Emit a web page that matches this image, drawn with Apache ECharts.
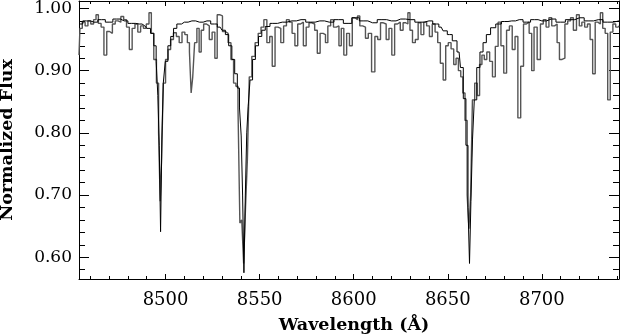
<!DOCTYPE html>
<html>
<head>
<meta charset="utf-8">
<script src="https://cdn.jsdelivr.net/npm/echarts@6/dist/echarts.min.js"></script>
<style>
  html, body { margin: 0; padding: 0; background: #fff; }
  #chart { width: 621px; height: 336px; }
</style>
</head>
<body>
<div id="chart"></div>
<script>
// observed spectrum (wavelength in A, normalized flux)
var obsWave = [
  8454, 8455, 8456.5, 8458, 8459.5, 8461, 8462.5, 8463.6, 8465, 8466.5,
  8468, 8469.5, 8471, 8472.5, 8474, 8475.5, 8477, 8478.5, 8480, 8481.5,
  8483, 8484.5, 8486, 8487.5, 8489, 8490.5, 8491.9, 8493, 8494.5, 8495.8,
  8496.8, 8497.5, 8498.3, 8499.3, 8500.7, 8502, 8503.4, 8505, 8506.5, 8508,
  8509.5, 8511, 8512.2, 8513.2, 8514, 8514.9, 8516, 8517.3, 8518.4, 8519.5,
  8521, 8522.5, 8524, 8525.5, 8526.9, 8528, 8529.5, 8531, 8532.5, 8534,
  8535.5, 8536.8, 8538, 8539, 8540, 8541, 8542, 8543, 8544, 8545,
  8546.7, 8548.5, 8550, 8551.5, 8553, 8554.7, 8556, 8557.4, 8559, 8560.5,
  8562, 8563.5, 8565, 8566.5, 8568, 8569.5, 8571, 8572.5, 8574, 8575.5,
  8577, 8578.5, 8580, 8581.3, 8583, 8584.5, 8585.5, 8587, 8588.5, 8590,
  8591.5, 8592.8, 8594, 8595.5, 8597, 8598.5, 8600, 8601.5, 8602.5, 8604,
  8605.5, 8607, 8608.5, 8610.5, 8612, 8613.5, 8615, 8616.5, 8618, 8619.5,
  8621, 8622.5, 8624, 8625.5, 8627, 8628.3, 8629.3, 8630.5, 8632, 8633.5,
  8635, 8636.5, 8638, 8639.5, 8641, 8642.5, 8644, 8645.3, 8646.8, 8648.3,
  8649.5, 8651, 8652.5, 8653.8, 8655, 8656.3, 8657.5, 8658.5, 8659.8, 8660.8,
  8661.7, 8662.6, 8663.6, 8665, 8666.3, 8667.5, 8668.8, 8670, 8671.5, 8673,
  8674.5, 8676, 8677.5, 8679, 8680.5, 8682, 8683.5, 8685, 8686.5, 8688,
  8689.5, 8691, 8692.5, 8694, 8695.2, 8696.5, 8698.5, 8700, 8701.5, 8703,
  8704.5, 8706, 8707.5, 8708.7, 8710, 8711.5, 8713, 8714.5, 8716, 8717.5,
  8719.3, 8720.5, 8722, 8723.5, 8725, 8726.3, 8727.7, 8729, 8730.5, 8731.7,
  8733, 8734.3, 8735.7, 8737, 8738.5, 8740, 8741
];
var obsFlux = [
  0.925, 0.968, 0.978, 0.972, 0.980, 0.975, 0.982, 0.990, 0.976, 0.970,
  0.925, 0.963, 0.960, 0.975, 0.980, 0.978, 0.987, 0.982, 0.970, 0.934,
  0.968, 0.975, 0.962, 0.972, 0.968, 0.975, 0.993, 0.960, 0.918, 0.880,
  0.800, 0.690, 0.760, 0.880, 0.918, 0.934, 0.950, 0.961, 0.955, 0.945,
  0.962, 0.958, 0.945, 0.930, 0.864, 0.890, 0.945, 0.968, 0.930, 0.965,
  0.975, 0.972, 0.950, 0.962, 0.920, 0.990, 0.988, 0.963, 0.960, 0.945,
  0.918, 0.880, 0.875, 0.840, 0.655, 0.660, 0.590, 0.680, 0.757, 0.890,
  0.923, 0.945, 0.960, 0.970, 0.982, 0.945, 0.955, 0.907, 0.970, 0.968,
  0.945, 0.972, 0.982, 0.978, 0.960, 0.940, 0.975, 0.978, 0.940, 0.970,
  0.977, 0.975, 0.965, 0.928, 0.960, 0.958, 0.945, 0.972, 0.982, 0.970,
  0.972, 0.940, 0.968, 0.925, 0.960, 0.940, 0.985, 0.982, 0.988, 0.972,
  0.970, 0.952, 0.960, 0.898, 0.955, 0.950, 0.977, 0.975, 0.950, 0.968,
  0.925, 0.975, 0.978, 0.965, 0.977, 0.975, 0.993, 0.965, 0.945, 0.950,
  0.977, 0.958, 0.978, 0.972, 0.955, 0.975, 0.962, 0.945, 0.912, 0.885,
  0.940, 0.945, 0.935, 0.910, 0.920, 0.900, 0.890, 0.864, 0.820, 0.700,
  0.646, 0.700, 0.853, 0.880, 0.860, 0.910, 0.925, 0.918, 0.930, 0.915,
  0.890, 0.939, 0.978, 0.940, 0.896, 0.965, 0.972, 0.934, 0.955, 0.824,
  0.907, 0.975, 0.978, 0.960, 0.900, 0.970, 0.918, 0.975, 0.982, 0.970,
  0.985, 0.972, 0.975, 0.945, 0.918, 0.920, 0.975, 0.980, 0.985, 0.965,
  0.990, 0.972, 0.978, 0.970, 0.975, 0.950, 0.895, 0.978, 0.975, 0.993,
  0.968, 0.960, 0.853, 0.962, 0.975, 0.970, 0.972
];

// model spectrum
var modelWave = [
  8454, 8458, 8462, 8466, 8470, 8474, 8478, 8482, 8486, 8489,
  8491, 8493, 8494.5, 8495.5, 8496.3, 8497, 8497.7, 8498.4, 8499.2, 8500.5,
  8502, 8503.5, 8505, 8507, 8510, 8514, 8518, 8522, 8526, 8529,
  8531, 8532.6, 8534.5, 8536, 8537.5, 8538.8, 8539.8, 8540.6, 8541.3, 8542,
  8542.8, 8543.5, 8544.3, 8545.5, 8547, 8548.5, 8550.3, 8552, 8554, 8557,
  8562, 8567, 8572, 8577, 8582, 8587, 8592, 8597, 8601, 8605,
  8610, 8615, 8620, 8625, 8630, 8635, 8640, 8644, 8646.5, 8648.5,
  8651, 8653.8, 8656, 8657.5, 8659, 8660.3, 8661.2, 8661.9, 8662.7, 8663.6,
  8664.6, 8666.2, 8668, 8669.5, 8671.5, 8674, 8677, 8680, 8684, 8688,
  8692, 8696, 8700, 8705, 8710, 8715, 8720, 8725, 8730, 8735, 8741
];
var modelFlux = [
  0.975, 0.980, 0.978, 0.982, 0.978, 0.983, 0.980, 0.976, 0.975, 0.972,
  0.968, 0.960, 0.940, 0.915, 0.860, 0.780, 0.641, 0.790, 0.880, 0.915,
  0.940, 0.955, 0.968, 0.975, 0.978, 0.980, 0.978, 0.980, 0.975, 0.970,
  0.965, 0.958, 0.940, 0.918, 0.895, 0.872, 0.840, 0.795, 0.700, 0.575,
  0.700, 0.800, 0.842, 0.885, 0.918, 0.940, 0.955, 0.965, 0.971, 0.976,
  0.978, 0.980, 0.982, 0.978, 0.980, 0.978, 0.982, 0.976, 0.985, 0.980,
  0.977, 0.982, 0.980, 0.983, 0.982, 0.978, 0.980, 0.975, 0.970, 0.964,
  0.958, 0.948, 0.930, 0.905, 0.855, 0.780, 0.680, 0.590, 0.690, 0.790,
  0.853, 0.905, 0.930, 0.945, 0.958, 0.969, 0.975, 0.979, 0.980, 0.982,
  0.978, 0.982, 0.980, 0.983, 0.978, 0.982, 0.985, 0.980, 0.982, 0.978, 0.980
];

// ticks
var xMajor = [8500, 8550, 8600, 8650, 8700];
var xMinor = [8460, 8470, 8480, 8490, 8510, 8520, 8530, 8540, 8560, 8570, 8580, 8590,
              8610, 8620, 8630, 8640, 8660, 8670, 8680, 8690, 8710, 8720, 8730, 8740];
var yMajor = [0.6, 0.7, 0.8, 0.9, 1.0];
var yMinor = [0.58, 0.62, 0.64, 0.66, 0.68, 0.72, 0.74, 0.76, 0.78, 0.82, 0.84, 0.86, 0.88,
              0.92, 0.94, 0.96, 0.98];

var xMin = 8454, xMax = 8741;
var yMin = 0.565, yMax = 1.012;

var font = 'DejaVu Serif';

function pairs(w, f) {
  var out = [];
  for (var i = 0; i < w.length; i++) out.push([w[i], f[i]]);
  return out;
}

function xAx(pos, ticks, len, main) {
  return {
    type: 'value', position: pos, min: xMin, max: xMax,
    axisLine: { show: main, onZero: false, lineStyle: { color: '#000', width: 1 } },
    axisTick: { show: true, inside: true, length: len, customValues: ticks,
                lineStyle: { color: '#000', width: 1 } },
    axisLabel: { show: main && pos === 'bottom', customValues: ticks, margin: 12,
                 color: '#000', fontFamily: font, fontSize: 18,
                 formatter: function (v) { return String(v); } },
    splitLine: { show: false },
    name: (main && pos === 'bottom') ? 'Wavelength (Å)' : '',
    nameLocation: 'middle', nameGap: 37,
    nameTextStyle: { color: '#000', fontFamily: font, fontSize: 17.5, fontWeight: 'bold',
                     padding: [0, 0, 0, 10] }
  };
}

function yAx(pos, ticks, len, main) {
  return {
    type: 'value', position: pos, min: yMin, max: yMax,
    axisLine: { show: main, onZero: false, lineStyle: { color: '#000', width: 1 } },
    axisTick: { show: true, inside: true, length: len, customValues: ticks,
                lineStyle: { color: '#000', width: 1 } },
    axisLabel: { show: main && pos === 'left', customValues: ticks, margin: 7,
                 color: '#000', fontFamily: font, fontSize: 17,
                 formatter: function (v) { return v.toFixed(2); } },
    splitLine: { show: false },
    name: (main && pos === 'left') ? 'Normalized Flux' : '',
    nameLocation: 'middle', nameGap: 63,
    nameTextStyle: { color: '#000', fontFamily: font, fontSize: 17.5, fontWeight: 'bold' }
  };
}

var chart = echarts.init(document.getElementById('chart'));
chart.setOption({
  animation: false,
  backgroundColor: '#fff',
  grid: { left: 79, right: 2, top: 1, bottom: 57, show: false,
          containLabel: false, outerBoundsMode: 'none' },
  xAxis: [
    xAx('bottom', xMajor, 5, true), xAx('bottom', xMinor, 3, false),
    xAx('top', xMajor, 5, true), xAx('top', xMinor, 3, false)
  ],
  yAxis: [
    yAx('left', yMajor, 10, true), yAx('left', yMinor, 6, false),
    yAx('right', yMajor, 10, true), yAx('right', yMinor, 6, false)
  ],
  series: [
    {
      name: 'observed', type: 'line', step: 'middle', symbol: 'none',
      xAxisIndex: 0, yAxisIndex: 0,
      lineStyle: { color: '#555', width: 1.4 },
      data: pairs(obsWave, obsFlux)
    },
    {
      name: 'model', type: 'line', step: 'middle', symbol: 'none',
      xAxisIndex: 0, yAxisIndex: 0,
      lineStyle: { color: '#000', width: 1 },
      data: pairs(modelWave, modelFlux)
    }
  ]
});
</script>
</body>
</html>
